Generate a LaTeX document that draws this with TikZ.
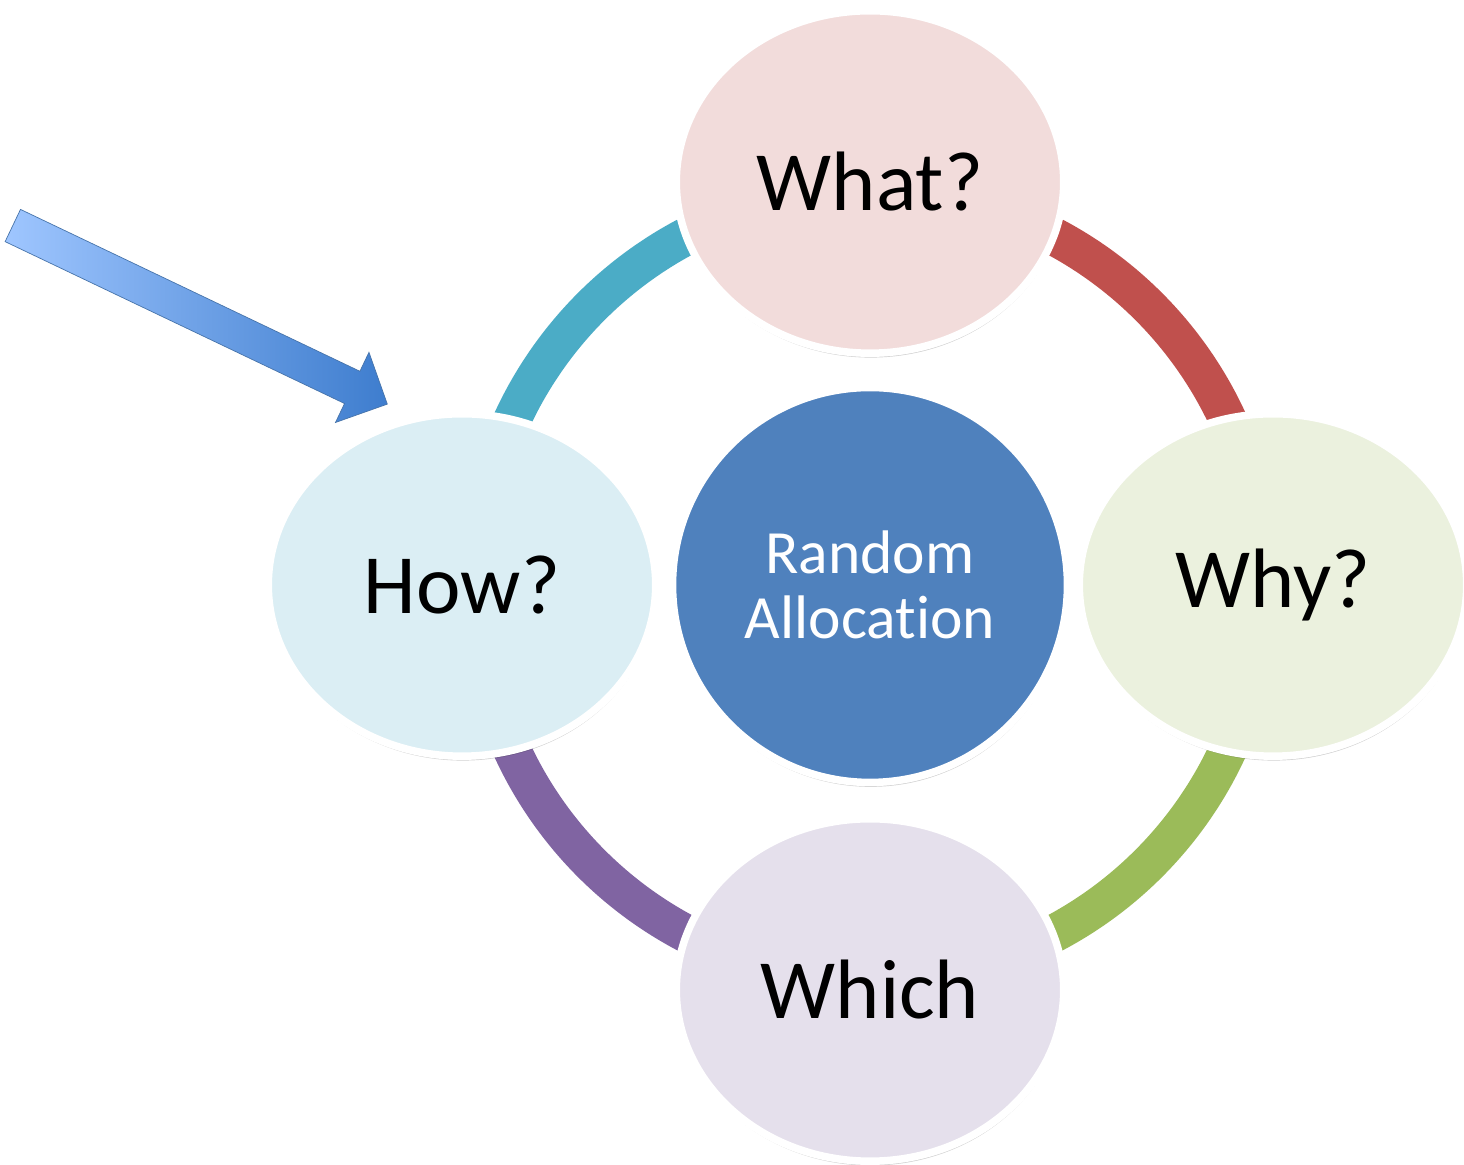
\documentclass[tikz,border=0pt]{standalone}
\usepackage{fontspec}
\setmainfont[Ligatures=NoCommon]{Carlito}
\usepackage{tikz}
\usetikzlibrary{shapes.geometric,shapes.arrows,shadows}
\definecolor{rateal}{HTML}{4BACC6}
\definecolor{rared}{HTML}{C0504D}
\definecolor{ragreen}{HTML}{9BBB59}
\definecolor{rapurple}{HTML}{8064A2}
\definecolor{rablue}{HTML}{4F81BD}
\definecolor{rapink}{HTML}{F2DCDB}
\definecolor{ralightblue}{HTML}{DBEEF4}
\definecolor{ralightgreen}{HTML}{EBF1DE}
\definecolor{ralilac}{HTML}{E5E0EC}
\definecolor{raarrowlight}{HTML}{9FC6FF}
\definecolor{raarrowdark}{HTML}{3E7DCE}
\tikzset{
  rastage/.style={
    ellipse,
    draw=white,
    line width=0.15cm,
    inner sep=0pt,
    drop shadow={shadow xshift=0.4pt,shadow yshift=-2.5pt,opacity=.18,fill=black}
  },
  raouter/.style={rastage,minimum width=7.75cm,minimum height=6.85cm,
                  font=\fontsize{48}{58}\selectfont},
  racentre/.style={rastage,circle,minimum size=7.9cm,fill=rablue,text=white,
                   align=center,font=\fontsize{35}{37}\selectfont},
  raring/.style={line width=0.76cm},
  raarrow/.style={single arrow,draw=rablue!90!black,thin,
                  minimum height=8.3cm,minimum width=1.55cm,
                  single arrow head extend=0.42cm,inner sep=0.35cm,
                  single arrow tip angle=90,
                  left color=raarrowlight,right color=raarrowdark}
}
\begin{document}
\begin{tikzpicture}[x=0.02cm,y=0.02cm]
  \useasboundingbox (0,0) rectangle (1464,1165);

  \coordinate (hub) at (870,580);
  % ring behind the stages
  \draw[raring,rateal]   (hub) ++(180:394) arc[start angle=180,end angle=90,radius=394];
  \draw[raring,rared]    (hub) ++(90:394)  arc[start angle=90,end angle=0,radius=394];
  \draw[raring,ragreen]  (hub) ++(0:394)   arc[start angle=0,end angle=-90,radius=394];
  \draw[raring,rapurple] (hub) ++(-90:394) arc[start angle=-90,end angle=-180,radius=394];

  \node[raouter,fill=rapink]       (what)  at (870,983) {What?};
  \node[raouter,fill=ralightblue]  (how)   at (462,580) {How?};
  \node[raouter,fill=ralightgreen] (why)   at (1273,580) {Why?};
  \node[raouter,fill=ralilac]      (which) at (870,175) {Which};

  \node[racentre] (alloc) at (hub) {Random\\Allocation};

  \node[raarrow,rotate=-25.5] (pointer) at (192,854) {};
\end{tikzpicture}
\end{document}
